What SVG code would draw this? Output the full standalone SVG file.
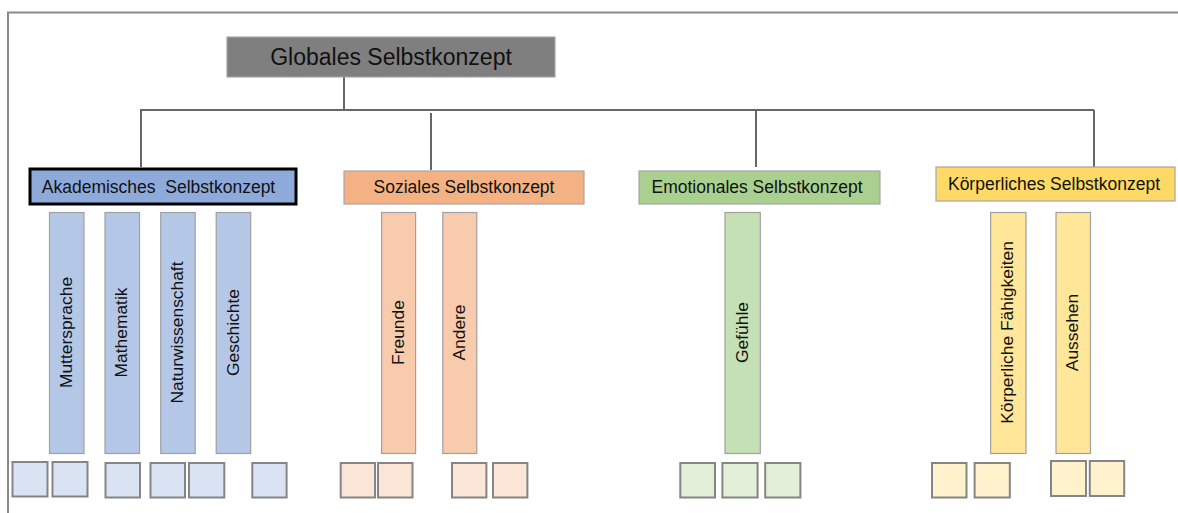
<svg xmlns="http://www.w3.org/2000/svg" width="1178" height="513" viewBox="0 0 1178 513">
<style>
text{font-family:"Liberation Sans",Arial,sans-serif;fill:#111}
.lbl{font-size:17.5px}
.vl{font-size:17.4px;text-anchor:middle}
.frame{fill:none;stroke:#8a8a8a;stroke-width:2}
.con{fill:none;stroke:#666;stroke-width:2}
.hdr{stroke:#a6a6a6;stroke-width:1.2}
.bar{stroke:#a0a0a0;stroke-width:1.2}
.sq{stroke:#858585;stroke-width:2}
.b1{fill:#b4c7e7}.b2{fill:#f8cbad}.b3{fill:#c5e0b4}.b4{fill:#ffe699}
.s1{fill:#dae3f3}.s2{fill:#fbe5d6}.s3{fill:#e2f0d9}.s4{fill:#fff2cc}
</style>
<rect width="1178" height="513" fill="#fff"/>
<path class="frame" d="M8 513V12.5H1178"/>
<g id="connectors">
<path class="con" d="M344 77V110M140 110H1094M141 110V167M431 113V170M756 110V167M1094 110V167"/>
</g>
<g id="globales">
<rect x="227" y="37" width="328" height="40" fill="#7f7f7f" stroke="#a6a6a6" stroke-width="1.2"/>
<text x="391" y="65" font-size="23" text-anchor="middle">Globales Selbstkonzept</text>
</g>
<g id="akademisch">
<rect x="30" y="169" width="266" height="35" fill="#8eaadb" stroke="#000" stroke-width="3"/>
<text class="lbl" x="158.5" y="193" text-anchor="middle">Akademisches&#160; Selbstkonzept</text>
</g>
<g id="sozial">
<rect class="hdr" x="344" y="171" width="240" height="33" fill="#f4b183"/>
<text class="lbl" x="464" y="193" text-anchor="middle">Soziales Selbstkonzept</text>
</g>
<g id="emotional">
<rect class="hdr" x="639" y="171" width="241" height="33" fill="#a9d08e"/>
<text class="lbl" x="757" y="193" text-anchor="middle">Emotionales Selbstkonzept</text>
</g>
<g id="koerperlich">
<rect class="hdr" x="936" y="167" width="239" height="34" fill="#ffd966"/>
<text class="lbl" x="1054" y="190" text-anchor="middle">Körperliches Selbstkonzept</text>
</g>
<g id="muttersprache"><rect class="bar b1" x="49.5" y="212.5" width="34.5" height="241"/><text class="vl" transform="translate(66.7,332.5) rotate(-90)" y="5">Muttersprache</text></g>
<g id="mathematik"><rect class="bar b1" x="105" y="212.5" width="34.5" height="241"/><text class="vl" transform="translate(122.2,332.5) rotate(-90)" y="5">Mathematik</text></g>
<g id="naturwissenschaft"><rect class="bar b1" x="160.7" y="212.5" width="34.5" height="241"/><text class="vl" transform="translate(178,332.5) rotate(-90)" y="5">Naturwissenschaft</text></g>
<g id="geschichte"><rect class="bar b1" x="216.2" y="212.5" width="34.5" height="241"/><text class="vl" transform="translate(233.5,332.5) rotate(-90)" y="5">Geschichte</text></g>
<g id="freunde"><rect class="bar b2" x="381.6" y="212.5" width="34" height="241"/><text class="vl" transform="translate(398.6,332.5) rotate(-90)" y="5">Freunde</text></g>
<g id="andere"><rect class="bar b2" x="442.8" y="212.5" width="34" height="241"/><text class="vl" transform="translate(459.8,332.5) rotate(-90)" y="5">Andere</text></g>
<g id="gefuehle"><rect class="bar b3" x="725" y="212.5" width="35.3" height="241"/><text class="vl" transform="translate(742.6,332.5) rotate(-90)" y="5.5">Gefühle</text></g>
<g id="koerperliche-faehigkeiten"><rect class="bar b4" x="990.6" y="212.5" width="35.4" height="241"/><text class="vl" transform="translate(1008.3,332.5) rotate(-90)" y="5">Körperliche Fähigkeiten</text></g>
<g id="aussehen"><rect class="bar b4" x="1056" y="212.5" width="34.5" height="241"/><text class="vl" transform="translate(1073.2,332.5) rotate(-90)" y="5">Aussehen</text></g>
<g id="squares">
<rect class="sq s1" x="12.5" y="462" width="35" height="34.5"/>
<rect class="sq s1" x="52.5" y="462" width="35" height="34.5"/>
<rect class="sq s1" x="105.5" y="463" width="34.5" height="34.5"/>
<rect class="sq s1" x="150.5" y="463" width="34.5" height="34.5"/>
<rect class="sq s1" x="189" y="463" width="35.3" height="34.5"/>
<rect class="sq s1" x="252.3" y="463" width="34.3" height="34.5"/>
<rect class="sq s2" x="340.7" y="463" width="34.3" height="34.5"/>
<rect class="sq s2" x="378" y="463" width="34.5" height="34.5"/>
<rect class="sq s2" x="452" y="463" width="34.4" height="34.5"/>
<rect class="sq s2" x="493" y="463" width="34.4" height="34.5"/>
<rect class="sq s3" x="680.3" y="463" width="34.7" height="34.5"/>
<rect class="sq s3" x="722.4" y="463" width="35.2" height="34.5"/>
<rect class="sq s3" x="765.2" y="463" width="35.2" height="34.5"/>
<rect class="sq s4" x="932" y="463" width="34.5" height="34.5"/>
<rect class="sq s4" x="974.6" y="463" width="35.2" height="34.5"/>
<rect class="sq s4" x="1051" y="461" width="35" height="35"/>
<rect class="sq s4" x="1089.8" y="461" width="34.4" height="35"/>
</g>
</svg>
